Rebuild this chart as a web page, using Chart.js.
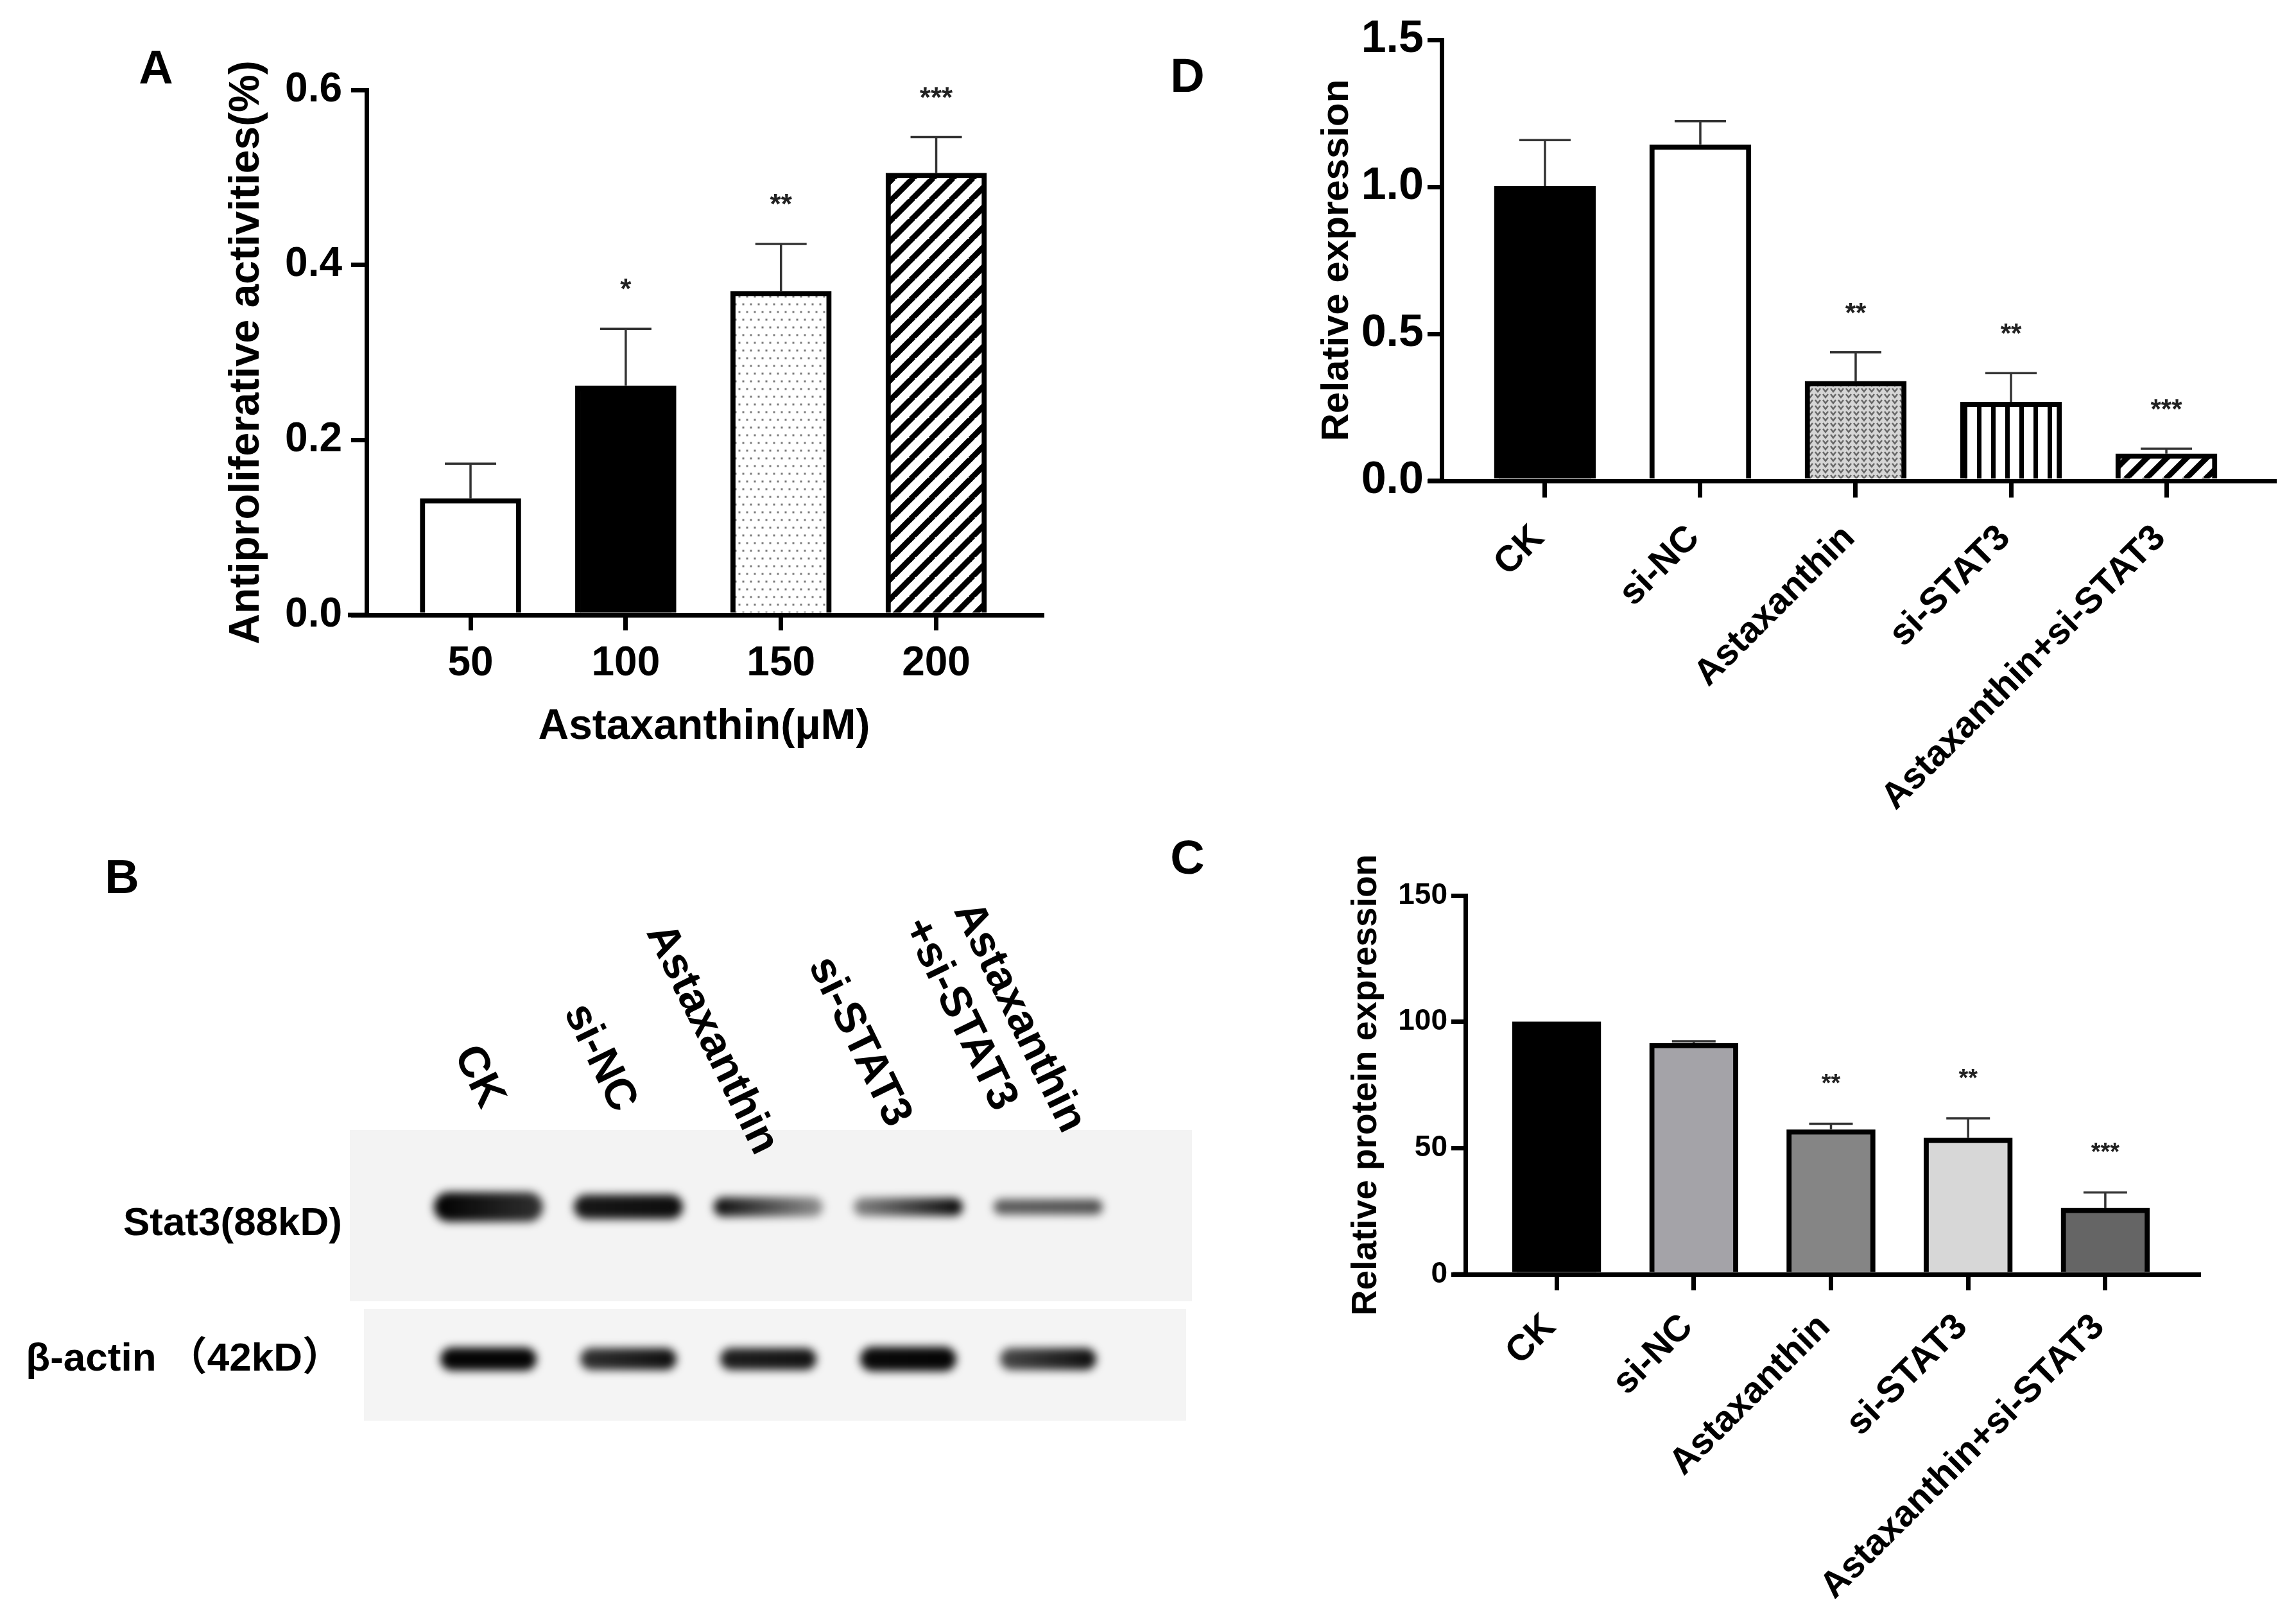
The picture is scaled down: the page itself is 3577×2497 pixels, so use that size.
<!DOCTYPE html>
<html>
<head>
<meta charset="utf-8">
<script src="https://cdn.jsdelivr.net/npm/chart.js@4.4.1/dist/chart.umd.min.js"></script>
<style>
  html, body { margin: 0; padding: 0; background: #fff; }
  #page { position: relative; width: 3577px; height: 2497px; overflow: hidden; background: #fff; }
  canvas { position: absolute; }
  .letter { position: absolute; font-family: 'Liberation Sans', Arial, sans-serif; font-weight: bold;
            font-size: 74px; line-height: 1; color: #000; transform: translate(-50%, -50%); }
</style>
</head>
<body>
<div id="page">
  <canvas id="cA" width="1550" height="1250" style="left:150px;top:0px"></canvas>
  <canvas id="cD" width="1627" height="1300" style="left:1950px;top:0px"></canvas>
  <canvas id="cB" width="1900" height="1000" style="left:0px;top:1300px"></canvas>
  <canvas id="cC" width="1627" height="1197" style="left:1950px;top:1300px"></canvas>
  <div class="letter" style="left:243px;top:105px">A</div>
  <div class="letter" style="left:1850px;top:118px">D</div>
  <div class="letter" style="left:190px;top:1366px">B</div>
  <div class="letter" style="left:1850px;top:1336px">C</div>
</div>
<script>
// ---------------- DATA ----------------
// Panel A
const doseLabels = ['50', '100', '150', '200'];
const doseMeans = [0.133, 0.262, 0.370, 0.505];
const doseErrors = [0.040, 0.065, 0.054, 0.041];
const doseStars = ['', '*', '**', '***'];
const doseTicks = [0, 0.2, 0.4, 0.6];

// Panels C and D share groups
const groupLabels = ['CK', 'si-NC', 'Astaxanthin', 'si-STAT3', 'Astaxanthin+si-STAT3'];

// Panel D
const mrnaMeans = [1.002, 1.143, 0.339, 0.268, 0.092];
const mrnaErrors = [0.157, 0.080, 0.098, 0.098, 0.017];
const mrnaStars = ['', '', '**', '**', '***'];
const mrnaTicks = [0, 0.5, 1.0, 1.5];

// Panel C
const proteinMeans = [100, 91.5, 57.3, 54.0, 26.2];
const proteinErrors = [0, 0.8, 2.3, 7.8, 6.2];
const proteinStars = ['', '', '**', '**', '***'];
const proteinTicks = [0, 50, 100, 150];

// Panel B (western blot)
const laneLabels = [['CK'], ['si-NC'], ['Astaxanthin'], ['si-STAT3'], ['Astaxanthin', '+si-STAT3']];
const blotRows = ['Stat3(88kD)', 'β-actin （42kD）'];
const stat3Left = [1.00, 0.90, 0.95, 0.45, 0.62];
const stat3Right = [0.80, 0.95, 0.40, 0.97, 0.66];
const actinLeft = [0.98, 0.80, 0.88, 0.96, 0.70];
const actinRight = [0.98, 0.94, 0.92, 0.98, 0.95];

// ---------------- STYLE HELPERS ----------------
const FONT = "'Liberation Sans', Arial, sans-serif";

function makePattern(kind) {
  const c = document.createElement('canvas');
  const g = c.getContext('2d');
  if (kind === 'dots') {
    c.width = 24; c.height = 24;
    g.fillStyle = '#fff'; g.fillRect(0, 0, 24, 24);
    g.fillStyle = '#7a7a7a';
    [[6, 6], [18, 6], [0, 18], [12, 18], [24, 18]].forEach(([x, y]) => g.fillRect(x - 1.5, y - 1.5, 3, 3));
  } else if (kind === 'diag') {
    const p = 31;
    c.width = p; c.height = p;
    g.fillStyle = '#fff'; g.fillRect(0, 0, p, p);
    g.strokeStyle = '#000'; g.lineWidth = 9;
    for (let k = -p; k <= p; k += p) {
      g.beginPath(); g.moveTo(k - 2, p + 2); g.lineTo(k + p + 2, -2); g.stroke();
    }
  } else if (kind === 'vert') {
    c.width = 22; c.height = 4;
    g.fillStyle = '#fff'; g.fillRect(0, 0, 22, 4);
    g.fillStyle = '#000'; g.fillRect(8, 0, 7, 4);
  } else if (kind === 'chev') {
    c.width = 12; c.height = 9;
    g.fillStyle = '#d6d6d6'; g.fillRect(0, 0, 12, 9);
    g.strokeStyle = '#666'; g.lineWidth = 2.5;
    g.beginPath(); g.moveTo(2, 2); g.lineTo(6, 7); g.lineTo(10, 2); g.stroke();
  }
  return document.createElement('canvas').getContext('2d').createPattern(c, 'repeat');
}

// error bars + significance stars
const errPlugin = {
  id: 'gpErr',
  afterDatasetsDraw(chart, args, o) {
    const ctx = chart.ctx;
    const ys = chart.scales.y;
    const meta = chart.getDatasetMeta(0);
    const ds = chart.data.datasets[0];
    meta.data.forEach((bar, i) => {
      const top = ys.getPixelForValue(ds.data[i].y + o.errors[i]);
      ctx.save();
      if (o.errors[i] > 0) {
        ctx.strokeStyle = '#333'; ctx.lineWidth = o.lw;
        ctx.beginPath();
        ctx.moveTo(bar.x, bar.y); ctx.lineTo(bar.x, top);
        ctx.moveTo(bar.x - o.cap, top); ctx.lineTo(bar.x + o.cap, top);
        ctx.stroke();
      }
      if (o.stars[i]) {
        ctx.fillStyle = '#222';
        ctx.font = 'bold ' + o.starSize + 'px ' + FONT;
        ctx.textAlign = 'center'; ctx.textBaseline = 'alphabetic';
        ctx.fillText(o.stars[i], bar.x, top - o.starGap + o.starSize * 0.57);
      }
      ctx.restore();
    });
  }
};

// x axis line extending a little to the left of the y axis (GraphPad style)
const axisExt = {
  id: 'axisExt',
  afterDraw(chart, args, o) {
    const a = chart.chartArea, ctx = chart.ctx;
    ctx.save();
    ctx.strokeStyle = '#000'; ctx.lineWidth = o.w;
    ctx.beginPath(); ctx.moveTo(a.left - o.ext, a.bottom); ctx.lineTo(a.left, a.bottom); ctx.stroke();
    ctx.restore();
  }
};

function gpBar(id, o) {
  const font = (s) => ({ family: FONT, size: s, weight: 'bold' });
  return new Chart(document.getElementById(id), {
    type: 'bar',
    data: {
      datasets: [{
        data: o.means.map((m, i) => ({ x: i + 1, y: m })),
        backgroundColor: o.fills,
        borderColor: '#000',
        borderWidth: o.bw,
        borderSkipped: 'bottom',
        barThickness: o.barW
      }]
    },
    options: {
      responsive: false, animation: false, devicePixelRatio: 1,
      layout: { padding: o.pad },
      plugins: {
        legend: { display: false }, tooltip: { enabled: false },
        gpErr: { errors: o.errors, stars: o.stars, cap: o.cap, lw: o.elw, starSize: o.starSize, starGap: o.starGap },
        axisExt: { ext: o.ext, w: o.axW }
      },
      scales: {
        x: {
          type: 'linear', min: o.xmin, max: o.xmax, offset: false,
          afterBuildTicks: s => { s.ticks = o.labels.map((_, i) => ({ value: i + 1 })); },
          ticks: {
            autoSkip: false, maxRotation: o.rot, minRotation: o.rot, padding: o.xPad, labelOffset: o.xLabelOffset || 0,
            color: '#000', font: font(o.xFont), callback: (v, i) => o.labels[i]
          },
          grid: { offset: false, drawOnChartArea: false, drawTicks: true, tickLength: o.xTick, color: '#000', lineWidth: o.axW },
          border: { display: true, color: '#000', width: o.axW },
          title: o.xTitle ? { display: true, text: o.xTitle, color: '#000', font: font(o.xTitleFont), padding: { top: 0, bottom: o.xTitlePad } } : { display: false },
          afterFit: s => { s.height = o.xH; }
        },
        y: {
          min: o.ticksY[0], max: o.ticksY[o.ticksY.length - 1],
          afterBuildTicks: s => { s.ticks = o.ticksY.map(v => ({ value: v })); },
          ticks: { color: '#000', font: font(o.yFont), padding: o.yPad, callback: v => o.yFmt(v) },
          grid: { drawOnChartArea: false, drawTicks: true, tickLength: o.yTick, color: '#000', lineWidth: o.axW },
          border: { display: true, color: '#000', width: o.axW },
          title: { display: true, text: o.yTitle, color: '#000', font: font(o.yTitleFont), padding: { top: o.yTitlePad, bottom: 0 } },
          afterFit: s => { s.width = o.yW; }
        }
      }
    },
    plugins: [errPlugin, axisExt]
  });
}

// ---------------- PANEL A ----------------
gpBar('cA', {
  labels: doseLabels, means: doseMeans, errors: doseErrors, stars: doseStars, ticksY: doseTicks,
  fills: ['#ffffff', '#000000', makePattern('dots'), makePattern('diag')],
  bw: 8, barW: 157, axW: 7, ext: 29,
  xmin: 0.33, xmax: 4.68, rot: 0, xPad: 14, xFont: 64, xTick: 24,
  xTitle: 'Astaxanthin(μM)', xTitleFont: 66, xTitlePad: 78, xH: 292,
  yFont: 64, yPad: 14, yTick: 24, yFmt: v => Number(v).toFixed(1),
  yTitle: 'Antiproliferative activities(%)', yTitleFont: 66, yTitlePad: 195, yW: 421,
  pad: { top: 140, right: 77, left: 0, bottom: 0 },
  cap: 40, elw: 3.5, starSize: 44, starGap: 72
});

// ---------------- PANEL D ----------------
gpBar('cD', {
  labels: groupLabels, means: mrnaMeans, errors: mrnaErrors, stars: mrnaStars, ticksY: mrnaTicks,
  fills: ['#000000', '#ffffff', makePattern('chev'), makePattern('vert'), makePattern('diag')],
  bw: 8, barW: 158, axW: 7, ext: 21,
  xmin: 0.335, xmax: 5.694, rot: 45, xPad: 30, xFont: 57, xTick: 26, xLabelOffset: -10,
  xTitle: null, xH: 551,
  yFont: 70, yPad: 6, yTick: 22, yFmt: v => Number(v).toFixed(1),
  yTitle: 'Relative expression', yTitleFont: 60, yTitlePad: 97, yW: 296,
  pad: { top: 62, right: 34, left: 0, bottom: 0 },
  cap: 40, elw: 3.5, starSize: 42, starGap: 72
});

// ---------------- PANEL C ----------------
gpBar('cC', {
  labels: groupLabels, means: proteinMeans, errors: proteinErrors, stars: proteinStars, ticksY: proteinTicks,
  fills: ['#000000', '#a4a3a8', '#858585', '#d7d7d7', '#656565'],
  bw: 8, barW: 138, axW: 7, ext: 20,
  xmin: 0.335, xmax: 5.679, rot: 45, xPad: 24, xFont: 57, xTick: 25, xLabelOffset: -10,
  xTitle: null, xH: 512,
  yFont: 46, yPad: 6, yTick: 22, yFmt: v => String(v),
  yTitle: 'Relative protein expression', yTitleFont: 55, yTitlePad: 146, yW: 333,
  pad: { top: 95, right: 152, left: 0, bottom: 0 },
  cap: 34, elw: 3.5, starSize: 38, starGap: 72
});

// ---------------- PANEL B (blot) ----------------
const blotStyle = {
  box1Bottom: 1.620, box2Top: 1.671, box2Inset: [22, 9],
  bandW: [170, 150], bandH: [[46, 38, 30, 28, 24], [36, 34, 34, 38, 34]],
  rowLabelDy: [27, 1],
  laneLabelAnchors: [[[-11, 430]], [[-23, 436]], [[-20, 502]], [[-31, 459]], [[23, 468], [-84, 434]]],
  laneAngle: 64
};
const blotPlugin = {
  id: 'blot',
  beforeDatasetsDraw(chart) {
    const ctx = chart.ctx, a = chart.chartArea, ys = chart.scales.y;
    const st = blotStyle;
    ctx.save();
    // membranes
    const b1 = ys.getPixelForValue(st.box1Bottom), b2 = ys.getPixelForValue(st.box2Top);
    ctx.fillStyle = '#f3f3f3';
    ctx.fillRect(a.left, a.top, a.right - a.left, b1 - a.top);
    ctx.fillStyle = '#f4f4f4';
    ctx.fillRect(a.left + st.box2Inset[0], b2, a.right - a.left - st.box2Inset[0] - st.box2Inset[1], a.bottom - b2);
    // bands
    const rowsL = [stat3Left, actinLeft], rowsR = [stat3Right, actinRight];
    [0, 1].forEach(r => {
      chart.getDatasetMeta(r).data.forEach((pt, i) => {
        const w = st.bandW[r], h = st.bandH[r][i];
        const gr = ctx.createLinearGradient(pt.x - w / 2, 0, pt.x + w / 2, 0);
        gr.addColorStop(0, 'rgba(0,0,0,' + rowsL[r][i] + ')');
        gr.addColorStop(1, 'rgba(0,0,0,' + rowsR[r][i] + ')');
        ctx.save();
        ctx.filter = 'blur(7px)';
        ctx.fillStyle = gr;
        ctx.beginPath();
        ctx.roundRect(pt.x - w / 2, pt.y - h / 2, w, h, h / 2);
        ctx.fill();
        ctx.restore();
      });
    });
    // row labels
    ctx.fillStyle = '#000';
    ctx.font = 'bold 62px ' + FONT + ", 'Noto Sans CJK SC'";
    ctx.textAlign = 'right'; ctx.textBaseline = 'middle';
    blotRows.forEach((t, r) => {
      const y = ys.getPixelForValue(r + 1) + st.rowLabelDy[r];
      ctx.fillText(t, a.left - 12, y);
    });
    // lane labels
    const xs = chart.scales.x;
    ctx.font = 'bold 68px ' + FONT;
    ctx.textAlign = 'right'; ctx.textBaseline = 'alphabetic';
    laneLabels.forEach((lines, i) => {
      lines.forEach((t, k) => {
        const [dx, y] = st.laneLabelAnchors[i][k];
        ctx.save();
        ctx.translate(xs.getPixelForValue(i + 1) + dx, y);
        ctx.rotate(st.laneAngle * Math.PI / 180);
        ctx.fillText(t, 0, 0);
        ctx.restore();
      });
    });
    ctx.restore();
  }
};
new Chart(document.getElementById('cB'), {
  type: 'scatter',
  data: {
    datasets: [
      { data: laneLabels.map((_, i) => ({ x: i + 1, y: 1 })), pointRadius: 0 },
      { data: laneLabels.map((_, i) => ({ x: i + 1, y: 2 })), pointRadius: 0 }
    ]
  },
  options: {
    responsive: false, animation: false, devicePixelRatio: 1,
    layout: { padding: { left: 545, right: 43, top: 460, bottom: 87 } },
    plugins: { legend: { display: false }, tooltip: { enabled: false } },
    scales: {
      x: { type: 'linear', display: false, min: 0.009, max: 6.028 },
      y: { type: 'linear', display: false, reverse: true, min: 0.4935, max: 2.405 }
    }
  },
  plugins: [blotPlugin]
});
</script>
</body>
</html>
